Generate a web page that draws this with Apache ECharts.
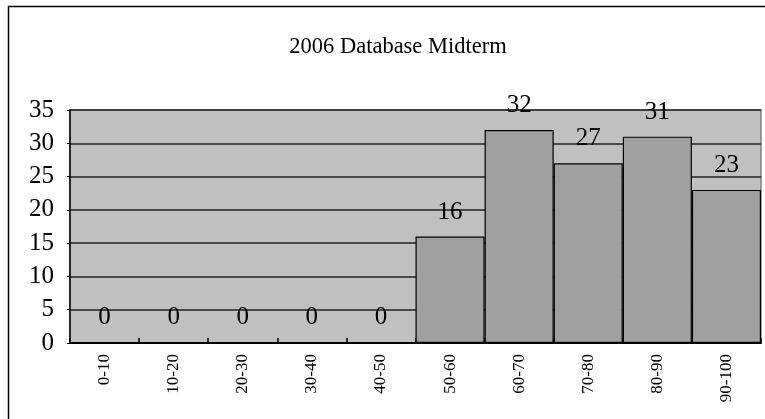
<!DOCTYPE html>
<html><head><meta charset="utf-8">
<script src="https://cdn.jsdelivr.net/npm/echarts@6/dist/echarts.min.js"></script>
<style>html,body{margin:0;padding:0;background:#fff}#c{width:765px;height:419px}</style>
</head><body><div id="c"></div>
<script>
const categories = ['0-10','10-20','20-30','30-40','40-50','50-60','60-70','70-80','80-90','90-100'];
const counts = [0,0,0,0,0,16,32,27,31,23];
const titleText = '2006 Database Midterm';
const FONT = '"Liberation Serif", "Times New Roman", serif';

const chart = echarts.init(document.getElementById('c'), null, {renderer:'canvas'});
chart.setOption({
  animation:false,
  backgroundColor:'#fff',
  title:{text:titleText,top:31,left:393,textAlign:'center',textStyle:{fontFamily:FONT,fontWeight:'normal',fontSize:22.5,color:'#000'}},
  graphic:[{type:'rect',shape:{x:8.5,y:6.5,width:900,height:600},style:{fill:'none',stroke:'#000',lineWidth:1.5},z:-1}],
  grid:{left:70,right:4,top:110,bottom:76,show:true,backgroundColor:'#C0C0C0',borderColor:'#808080',borderWidth:1.5},
  xAxis:{type:'category',data:categories,
    axisLine:{lineStyle:{color:'#000',width:2}},
    axisTick:{show:true,inside:true,length:5,lineStyle:{color:'#000',width:1.5}},
    axisLabel:{rotate:90,margin:11,fontFamily:FONT,fontSize:17,color:'#000'}},
  yAxis:{type:'value',min:0,max:35,interval:5,
    axisLine:{show:true,lineStyle:{color:'#000',width:1.5}},
    axisTick:{show:true,length:3,lineStyle:{color:'#000'}},
    splitLine:{lineStyle:{color:'#222',width:1.5}},
    axisLabel:{margin:16,padding:[6,0,0,0],fontFamily:FONT,fontSize:25,color:'#000'}},
  series:[{type:'bar',data:counts,barCategoryGap:'0%',
    itemStyle:{color:'#A0A0A0',borderColor:'#000',borderWidth:1.2},
    label:{show:true,position:'top',distance:12,fontFamily:FONT,fontSize:25,color:'#000'}}]
});
</script></body></html>
